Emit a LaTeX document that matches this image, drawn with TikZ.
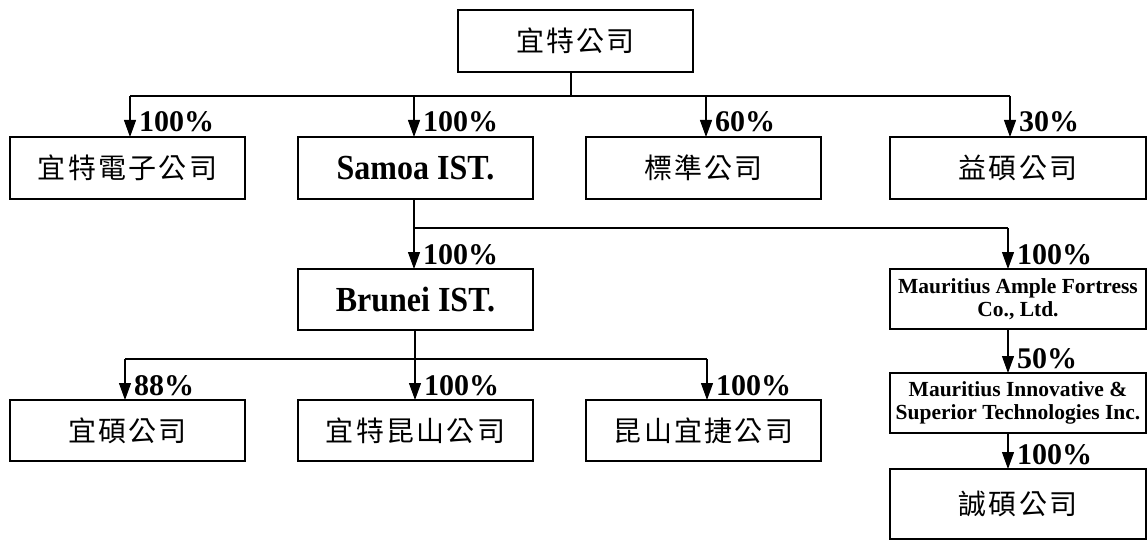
\documentclass[tikz,border=0pt]{standalone}
\usepackage{fontspec}
\setmainfont{Liberation Serif}
\newfontfamily\cjk{Noto Sans CJK TC}[LetterSpace=8]
\usetikzlibrary{arrows.meta,calc}
\newcommand{\tallbf}[1]{\scalebox{1}[1.1]{#1}}
\begin{document}
\begin{tikzpicture}[x=1pt,y=-1pt,
 box/.style={draw,line width=1.6pt,inner sep=0pt,outer sep=0pt,anchor=north west,align=center,minimum width=235pt},
 cbox/.style={box,font=\cjk\fontsize{28}{28}\selectfont},
 ebox/.style={box,font=\bfseries\fontsize{32}{32}\selectfont},
 mbox/.style={box,font=\bfseries\fontsize{21.5}{23}\selectfont,minimum width=256pt,minimum height=60pt},
 conn/.style={line width=1.1pt},
 arr/.style={conn,-{Triangle[width=12pt,length=17pt]}},
 pct/.style={font=\bfseries\fontsize{30}{30}\selectfont,anchor=base west,inner sep=0pt}]
\useasboundingbox (0,0) rectangle (1147,540);
% boxes
\node[cbox,minimum height=62pt] (top) at (458,10) {宜特公司};
\node[cbox,minimum height=62pt] (b1) at (10,137) {宜特電子公司};
\node[ebox,minimum height=62pt] (b2) at (298,137) {\tallbf{Samoa IST.}};
\node[cbox,minimum height=62pt] (b3) at (586,137) {標準公司};
\node[cbox,minimum height=62pt,minimum width=256pt] (b4) at (890,137) {益碩公司};
\node[ebox,minimum height=61pt] (br) at (298,269) {\tallbf{Brunei IST.}};
\node[cbox,minimum height=61pt] (c1) at (10,400) {宜碩公司};
\node[cbox,minimum height=61pt] (c2) at (298,400) {宜特昆山公司};
\node[cbox,minimum height=61pt] (c3) at (586,400) {昆山宜捷公司};
\node[mbox] (m1) at (890,269) {Mauritius Ample Fortress\\Co., Ltd.};
\node[mbox] (m2) at (890,373) {Mauritius Innovative \&\\Superior Technologies Inc.};
\node[cbox,minimum width=256pt,minimum height=70pt] (m3) at (890,469) {誠碩公司};
% level 1 bus
\coordinate (j0) at (571,96);
\coordinate (j1) at (130,96);
\coordinate (j2) at (414,96);
\coordinate (j3) at (706,96);
\coordinate (j4) at (1010,96);
\draw[conn] (j0 |- top.south) -- (j0);
\draw[conn] (j1) -- (j4);
\draw[arr] (j1) -- (j1 |- b1.north);
\draw[arr] (j2) -- (j2 |- b2.north);
\draw[arr] (j3) -- (j3 |- b3.north);
\draw[arr] (j4) -- (j4 |- b4.north);
% Samoa bus
\coordinate (k0) at (414,228);
\coordinate (k1) at (1008,228);
\draw[conn] (k0 |- b2.south) -- (k0) -- (k1);
\draw[arr] (k0) -- (k0 |- br.north);
\draw[arr] (k1) -- (k1 |- m1.north);
% Brunei bus
\coordinate (n0) at (415,359);
\coordinate (n1) at (125,359);
\coordinate (n3) at (707,359);
\draw[conn] (n0 |- br.south) -- (n0);
\draw[conn] (n1) -- (n3);
\draw[arr] (n1) -- (n1 |- c1.north);
\draw[arr] (n0) -- (n0 |- c2.north);
\draw[arr] (n3) -- (n3 |- c3.north);
% Mauritius chain
\draw[arr] (k1 |- m1.south) -- (k1 |- m2.north);
\draw[arr] (k1 |- m2.south) -- (k1 |- m3.north);
% labels
\node[pct] (p1) at ($(j1 |- b1.north)+(9,-5)$) {100\%};
\node[pct] (p2) at ($(j2 |- b2.north)+(9,-5)$) {100\%};
\node[pct] (p3) at ($(j3 |- b3.north)+(9,-5)$) {60\%};
\node[pct] (p4) at ($(j4 |- b4.north)+(9,-5)$) {30\%};
\node[pct] (p5) at ($(k0 |- br.north)+(9,-5)$) {100\%};
\node[pct] (p6) at ($(k1 |- m1.north)+(9,-5)$) {100\%};
\node[pct] (p7) at ($(n1 |- c1.north)+(9,-5)$) {88\%};
\node[pct] (p8) at ($(n0 |- c2.north)+(9,-5)$) {100\%};
\node[pct] (p9) at ($(n3 |- c3.north)+(9,-5)$) {100\%};
\node[pct] (p10) at ($(k1 |- m2.north)+(9,-5)$) {50\%};
\node[pct] (p11) at ($(k1 |- m3.north)+(9,-5)$) {100\%};
\end{tikzpicture}
\end{document}
